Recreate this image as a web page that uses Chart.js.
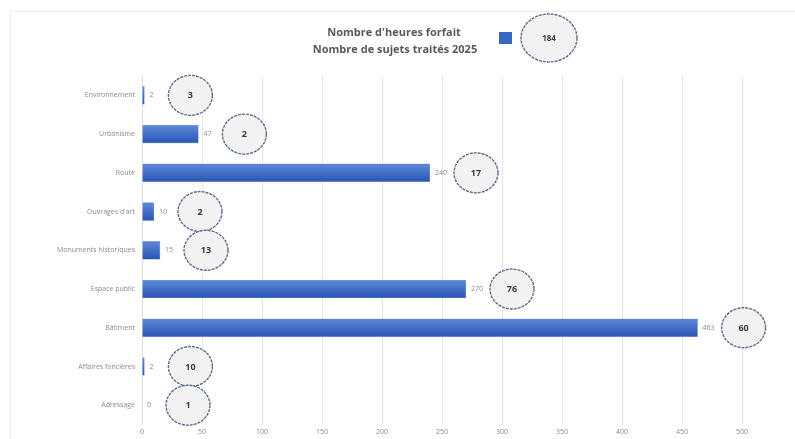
<!DOCTYPE html>
<html>
<head>
<meta charset="utf-8">
<script src="https://cdn.jsdelivr.net/npm/chart.js"></script>
<style>
  html, body { margin: 0; padding: 0; background: #fff; }
  #wrap { width: 795px; height: 439px; }
</style>
</head>
<body>
<div id="wrap"><canvas id="chart"></canvas></div>
<script>
const categories = ['Environnement', 'Urbanisme', 'Route', "Ouvrages d'art", 'Monuments historiques', 'Espace public', 'Bâtiment', 'Affaires foncières', 'Adressage'];
const heures = [2, 47, 240, 10, 15, 270, 463, 2, 0];
const sujets = [3, 2, 17, 2, 13, 76, 60, 10, 1];
const xTicks = [0, 50, 100, 150, 200, 250, 300, 350, 400, 450, 500];

const FONT = '"Open Sans", "Liberation Sans", sans-serif';
const totalSujets = sujets.reduce((a, b) => a + b, 0);

function bubble(ctx, x, y, rx, ry, text, size) {
  ctx.save();
  ctx.beginPath();
  ctx.ellipse(x, y, rx, ry, 0, 0, Math.PI * 2);
  ctx.fillStyle = '#f2f2f2';
  ctx.fill();
  ctx.setLineDash([3, 1]);
  ctx.lineWidth = 1.4;
  ctx.strokeStyle = '#5d6d8c';
  ctx.stroke();
  ctx.setLineDash([]);
  ctx.fillStyle = '#3a3a3a';
  ctx.font = 'bold ' + size + 'px ' + FONT;
  ctx.textAlign = 'center';
  ctx.textBaseline = 'middle';
  ctx.fillText(text, x, y + 0.5);
  ctx.restore();
}

// frame, header legend, value labels and bubbles
const extras = {
  id: 'extras',
  beforeDraw(chart) {
    const ctx = chart.ctx;
    ctx.save();
    ctx.strokeStyle = '#ededed';
    ctx.lineWidth = 1;
    ctx.beginPath();
    ctx.moveTo(10.5, chart.height);
    ctx.lineTo(10.5, 11.5);
    ctx.lineTo(chart.width, 11.5);
    ctx.stroke();
    ctx.restore();
  },
  afterDatasetsDraw(chart) {
    const ctx = chart.ctx;
    const meta = chart.getDatasetMeta(0);
    meta.data.forEach((bar, i) => {
      ctx.save();
      ctx.fillStyle = '#8a8a8a';
      ctx.font = '7px ' + FONT;
      ctx.textAlign = 'left';
      ctx.textBaseline = 'middle';
      ctx.fillText(String(heures[i]), bar.x + 5, bar.y);
      ctx.restore();
      bubble(ctx, bar.x + 46, bar.y, 22, 20, String(sujets[i]), 9);
    });

    // header legend
    ctx.save();
    ctx.fillStyle = '#595959';
    ctx.font = 'bold 11px ' + FONT;
    ctx.textAlign = 'center';
    ctx.textBaseline = 'middle';
    ctx.fillText("Nombre d'heures forfait", 394, 33);
    ctx.fillText('Nombre de sujets traités 2025', 395, 50);
    ctx.fillStyle = '#3a66c4';
    ctx.fillRect(499, 32, 13, 12);
    ctx.restore();
    bubble(ctx, 549, 38, 28, 24, String(totalSujets), 8);
  }
};

const ctx = document.getElementById('chart').getContext('2d');

new Chart(ctx, {
  type: 'bar',
  data: {
    labels: categories,
    datasets: [{
      label: "Nombre d'heures forfait",
      data: heures,
      backgroundColor: (c) => {
        const sy = c.chart.scales && c.chart.scales.y;
        const y = sy ? sy.getPixelForValue(c.dataIndex) : NaN;
        if (!isFinite(y)) return '#3a66c4';
        const g = c.chart.ctx.createLinearGradient(0, y - 9, 0, y + 9);
        g.addColorStop(0, '#5e89da');
        g.addColorStop(1, '#2955b3');
        return g;
      },
      borderColor: '#9fb5e0',
      borderWidth: 0.6,
      barThickness: 18
    }]
  },
  options: {
    indexAxis: 'y',
    responsive: true,
    maintainAspectRatio: false,
    animation: false,
    layout: { padding: { top: 76, right: 17, bottom: 0, left: 0 } },
    plugins: {
      legend: { display: false },
      tooltip: { enabled: false }
    },
    scales: {
      x: {
        min: 0,
        max: 530,
        afterBuildTicks: (axis) => { axis.ticks = xTicks.map(v => ({ value: v })); },
        grid: { color: '#e2e6ee', drawTicks: false },
        border: { display: false },
        ticks: { color: '#8a8a8a', font: { family: FONT, size: 7 }, padding: 3 }
      },
      y: {
        afterFit: (s) => { s.width = 142; },
        grid: { display: false, drawTicks: false },
        border: { color: '#d9dde5' },
        ticks: { color: '#8a8a8a', font: { family: FONT, size: 7 }, padding: 7 }
      }
    }
  },
  plugins: [extras]
});
</script>
</body>
</html>
